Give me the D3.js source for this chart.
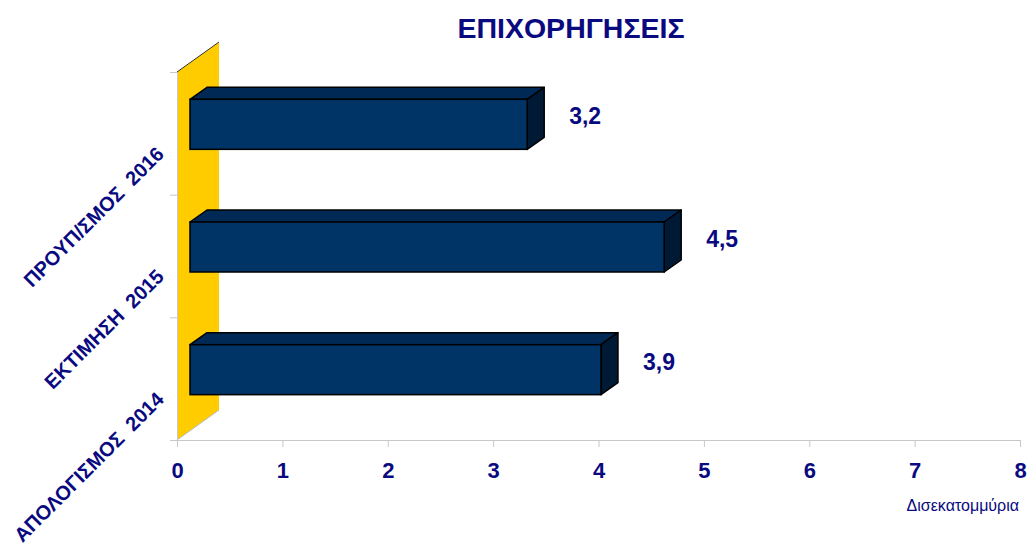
<!DOCTYPE html>
<html lang="el">
<head>
    <meta charset="UTF-8">
    <title>ΕΠΙΧΟΡΗΓΗΣΕΙΣ</title>
    <script src="https://cdn.jsdelivr.net/npm/d3@7/dist/d3.min.js"></script>
    <style>
        body { margin: 0; background: #fff; }
        text { font-family: "Liberation Sans", Arial, sans-serif; }
    </style>
</head>
<body>
<svg width="1030" height="544"></svg>
<script>
    // data
    var categories = ['ΑΠΟΛΟΓΙΣΜΟΣ  2014', 'ΕΚΤΙΜΗΣΗ  2015', 'ΠΡΟΥΠ/ΣΜΟΣ  2016'];
    var values = [3.9, 4.5, 3.2];
    var labels = ['3,9', '4,5', '3,2'];
    var xTicks = [0, 1, 2, 3, 4, 5, 6, 7, 8];

    var svg = d3.select('svg');
    var navy = '#0a0a80';

    var x = d3.scaleLinear().domain([0, 8]).range([177, 1020]);
    var y = d3.scaleBand().domain(categories).range([440, 72]).padding(0);
    var yEdge = d3.scaleLinear().domain([0, categories.length]).range([440, 72]);

    // wall depth and bar depth
    var wdx = 42, wdy = -30;
    var fdx = 13, fdy = -9;   // bar front offset from the axis plane
    var bdx = 17, bdy = -12;  // bar depth
    var barH = 50;

    // title
    svg.append('text')
        .attr('x', 571).attr('y', 38)
        .attr('text-anchor', 'middle')
        .style('font-size', '28.5px').style('font-weight', 'bold')
        .attr('fill', navy)
        .text('ΕΠΙΧΟΡΗΓΗΣΕΙΣ');

    // yellow side wall
    var x0 = x(0), yb = yEdge(0), yt = yEdge(categories.length);
    svg.append('path')
        .attr('d', 'M' + x0 + ',' + yb + 'L' + x0 + ',' + yt + 'L' + (x0 + wdx) + ',' + (yt + wdy) +
            'L' + (x0 + wdx) + ',' + (yb + wdy) + 'Z')
        .attr('fill', '#ffcc00');
    svg.append('line')
        .attr('x1', x0).attr('y1', yt).attr('x2', x0 + wdx).attr('y2', yt + wdy)
        .attr('stroke', '#333').attr('stroke-width', 1);
    svg.append('line')
        .attr('x1', x0).attr('y1', yb).attr('x2', x0 + wdx).attr('y2', yb + wdy)
        .attr('stroke', '#bbb').attr('stroke-width', 1);

    // bottom axis
    var xAxis = svg.append('g')
        .attr('transform', 'translate(0,' + yb + ')')
        .call(d3.axisBottom(x).tickValues(xTicks).tickFormat(d3.format('d')).tickSize(7).tickPadding(15));
    xAxis.select('.domain').attr('stroke', '#c8c8c8');
    xAxis.selectAll('.tick line').attr('stroke', '#c8c8c8');
    xAxis.selectAll('.tick text')
        .attr('fill', navy)
        .style('font-size', '22px').style('font-weight', 'bold')
        .style('font-family', '"Liberation Sans", Arial, sans-serif');

    // left axis (ticks at category boundaries)
    var yAxis = svg.append('g')
        .attr('transform', 'translate(' + x0 + ',0)')
        .call(d3.axisLeft(yEdge).tickValues([0, 1, 2, 3]).tickFormat('').tickSize(7));
    yAxis.select('.domain').attr('stroke', '#c8c8c8');
    yAxis.selectAll('.tick line').attr('stroke', '#c8c8c8');

    // category labels, rotated
    svg.selectAll('.cat')
        .data(categories)
        .enter().append('text')
        .attr('class', 'cat')
        .attr('transform', function (d) {
            return 'translate(165,' + (y(d) + y.bandwidth() / 2 + 22) + ') rotate(-45)';
        })
        .attr('text-anchor', 'end')
        .attr('fill', navy)
        .style('font-size', '20px').style('font-weight', 'bold')
        .style('white-space', 'pre')
        .text(function (d) { return d; });

    // bars
    var bars = svg.selectAll('.bar')
        .data(categories)
        .enter().append('g')
        .attr('class', 'bar');

    function geo(d, i) {
        var cy = y(d) + y.bandwidth() / 2 + fdy;
        return { l: x(0) + fdx, r: x(values[i]) + fdx, t: cy - barH / 2, b: cy + barH / 2 };
    }

    // top face
    bars.append('path')
        .attr('d', function (d, i) {
            var g = geo(d, i);
            return 'M' + g.l + ',' + g.t + 'L' + (g.l + bdx) + ',' + (g.t + bdy) +
                'L' + (g.r + bdx) + ',' + (g.t + bdy) + 'L' + g.r + ',' + g.t + 'Z';
        })
        .attr('fill', '#002a55').attr('stroke', '#000').attr('stroke-width', 1.5)
        .attr('stroke-linejoin', 'round');
    // side face
    bars.append('path')
        .attr('d', function (d, i) {
            var g = geo(d, i);
            return 'M' + g.r + ',' + g.t + 'L' + (g.r + bdx) + ',' + (g.t + bdy) +
                'L' + (g.r + bdx) + ',' + (g.b + bdy) + 'L' + g.r + ',' + g.b + 'Z';
        })
        .attr('fill', '#001a35').attr('stroke', '#000').attr('stroke-width', 1.5)
        .attr('stroke-linejoin', 'round');
    // front face
    bars.append('rect')
        .attr('x', function (d, i) { return geo(d, i).l; })
        .attr('y', function (d, i) { return geo(d, i).t; })
        .attr('width', function (d, i) { var g = geo(d, i); return g.r - g.l; })
        .attr('height', barH)
        .attr('fill', '#003366').attr('stroke', '#000').attr('stroke-width', 1.5);

    // value labels
    bars.append('text')
        .attr('x', function (d, i) { return geo(d, i).r + 42; })
        .attr('y', function (d, i) { return geo(d, i).t + 25; })
        .attr('fill', navy)
        .style('font-size', '23px').style('font-weight', 'bold')
        .text(function (d, i) { return labels[i]; });

    // unit label
    svg.append('text')
        .attr('x', 1019).attr('y', 511)
        .attr('text-anchor', 'end')
        .attr('fill', navy)
        .style('font-size', '16px')
        .text('Δισεκατομμύρια');
</script>
</body>
</html>
